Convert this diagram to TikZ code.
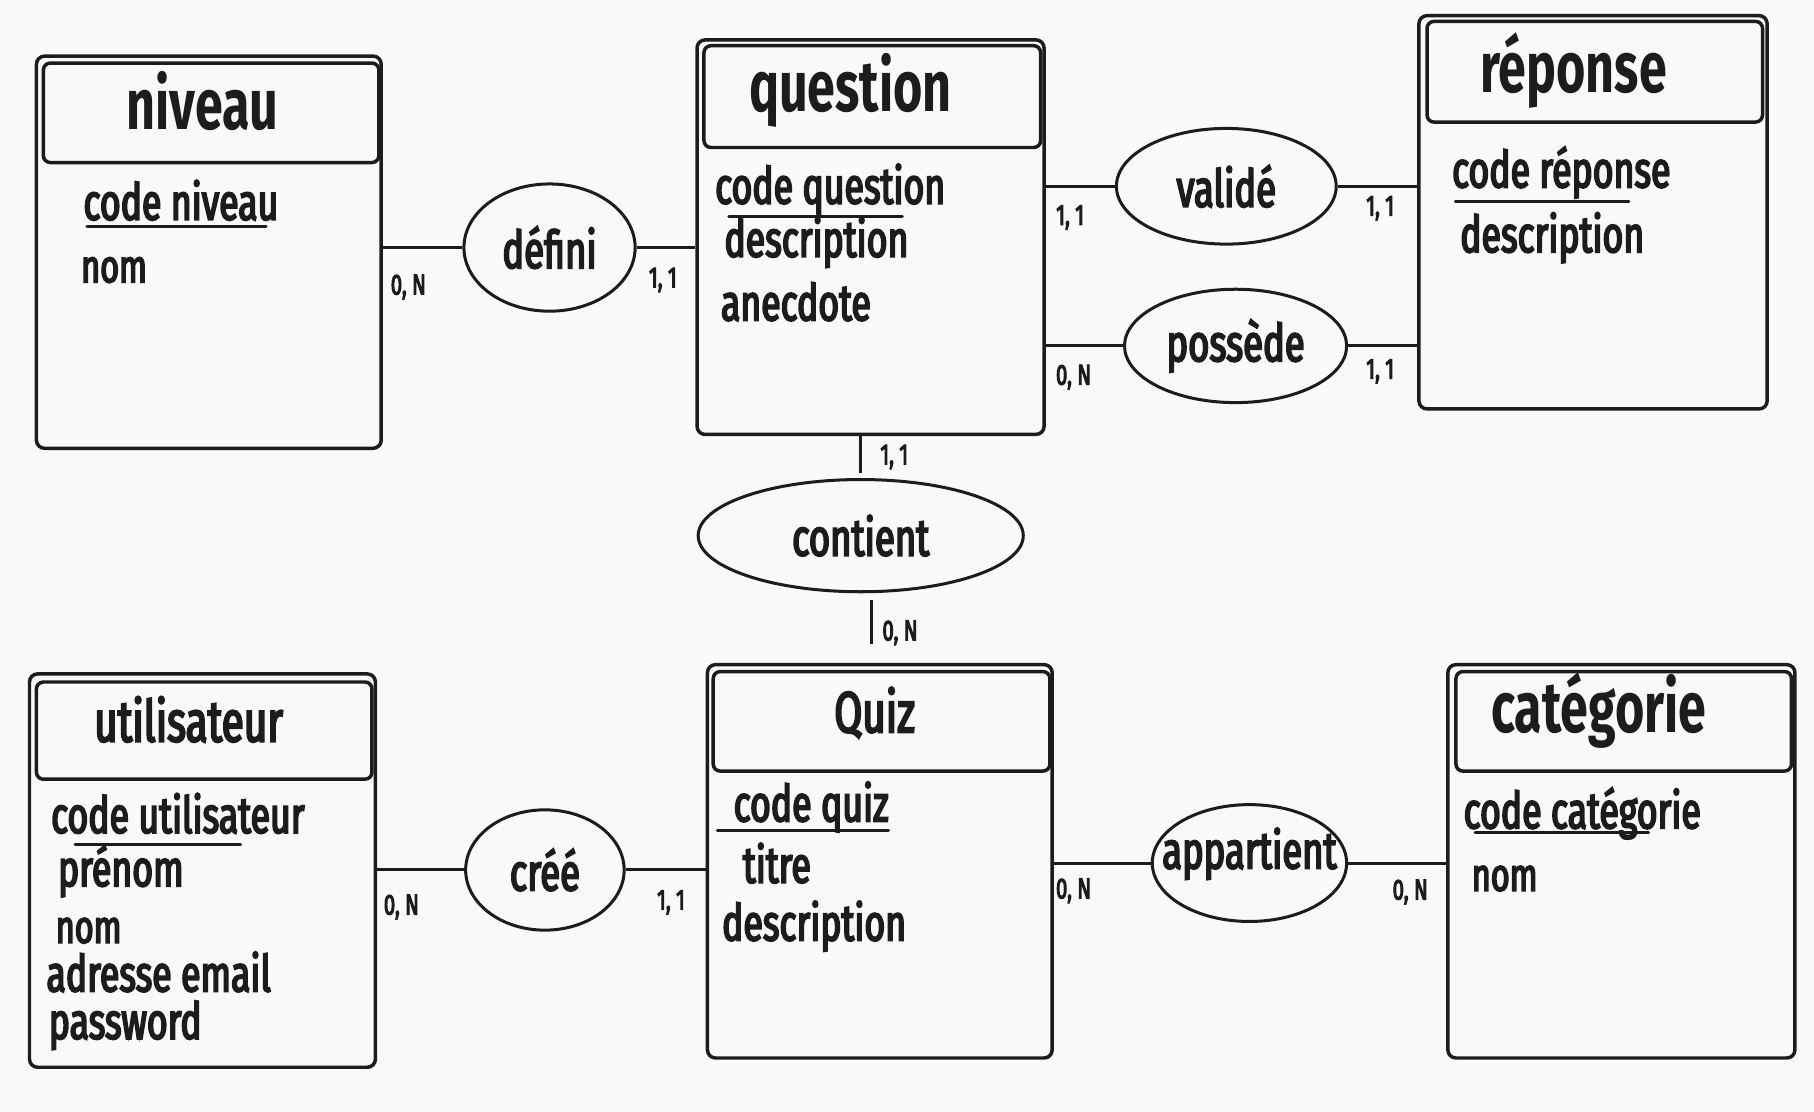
\documentclass[tikz,border=0pt]{standalone}
\usepackage{fontspec}
\newfontfamily\hand[FakeStretch=0.7]{Fira Sans}
\newfontfamily\handr[FakeStretch=0.7,FakeBold=3.5]{Fira Sans}
\usetikzlibrary{shapes.geometric}
\definecolor{bg}{HTML}{F8F9FA}
\definecolor{ink}{HTML}{1C1C1C}
\begin{document}
\begin{tikzpicture}[x=1pt,y=-1pt,
  box/.style={draw=ink, line width=3pt, rounded corners=7pt, inner sep=0pt, anchor=north west},
  head/.style={draw=ink, line width=3pt, rounded corners=6pt, inner sep=0pt, anchor=north west},
  ttl/.style={text=ink, inner sep=0pt, anchor=base, font=\hand\bfseries\fontsize{62}{70}\selectfont},
  ttlsmall/.style={text=ink, inner sep=0pt, anchor=base, font=\handr\fontsize{50}{58}\selectfont},
  attr/.style={text=ink, inner sep=0pt, anchor=base west, font=\handr\fontsize{44}{50}\selectfont},
  rel/.style={draw=ink, line width=2.6pt, ellipse, inner sep=0pt},
  reltext/.style={text=ink, inner sep=0pt, font=\handr\fontsize{45}{50}\selectfont},
  conn/.style={draw=ink, line width=2.6pt},
  card/.style={text=ink, inner sep=0pt, font=\handr\fontsize{25}{28}\selectfont},
  uline/.style={draw=ink, line width=2.6pt, line cap=round}]
\useasboundingbox (0,0) rectangle (1568,961);
\fill[bg] (0,0) rectangle (1568,961);

% ---------- niveau
\node[box, minimum width=298pt, minimum height=339pt] (niveau) at (30,47) {};
\node[head, minimum width=290pt, minimum height=86pt] (niveauH) at (36,53) {};
\node[ttl] (niveauT) at (175,112) {niveau};
\node[attr] (niveauA1) at (72,190) {code niveau};
\node[attr, font=\handr\fontsize{40}{46}\selectfont] (niveauA2) at (70,244) {nom};
\draw[uline] (75,196) -- (230,196);

% ---------- question
\node[box, minimum width=300pt, minimum height=341pt] (question) at (601,33) {};
\node[head, minimum width=291pt, minimum height=88pt] (questionH) at (607,38) {};
\node[ttl] (questionT) at (735,96) {question};
\node[attr] (questionA1) at (618,176) {code question};
\node[attr] (questionA2) at (626,222) {description};
\node[attr] (questionA3) at (623,277) {anecdote};
\draw[uline] (630,187) -- (780,187);

% ---------- réponse
\node[box, minimum width=301pt, minimum height=340pt] (reponse) at (1225,12) {};
\node[head, minimum width=290pt, minimum height=87pt] (reponseH) at (1232,17) {};
\node[ttl] (reponseT) at (1360,80) {réponse};
\node[attr] (reponseA1) at (1255,162) {code réponse};
\node[attr] (reponseA2) at (1262,218) {description};
\draw[uline] (1258,174) -- (1408,174);

% ---------- utilisateur
\node[box, minimum width=299pt, minimum height=340pt] (utilisateur) at (24,581) {};
\node[head, minimum width=290pt, minimum height=84pt] (utilisateurH) at (30,588) {};
\node[ttlsmall] (utilisateurT) at (163,641) {utilisateur};
\node[attr] (utilisateurA1) at (44,720) {code utilisateur};
\node[attr] (utilisateurA2) at (50,766) {prénom};
\node[attr, font=\handr\fontsize{40}{46}\selectfont] (utilisateurA3) at (48,815) {nom};
\node[attr] (utilisateurA4) at (40,857) {adresse email};
\node[attr] (utilisateurA5) at (42,898) {password};
\draw[uline] (65,730) -- (208,730);

% ---------- Quiz
\node[box, minimum width=298pt, minimum height=340pt] (quiz) at (610,573) {};
\node[head, minimum width=291pt, minimum height=86pt] (quizH) at (615,579) {};
\node[ttlsmall] (quizT) at (756,633) {Quiz};
\node[attr] (quizA1) at (634,710) {code quiz};
\node[attr] (quizA2) at (642,763) {titre};
\node[attr] (quizA3) at (624,813) {description};
\draw[uline] (620,718) -- (768,718);

% ---------- catégorie
\node[box, minimum width=300pt, minimum height=340pt] (categorie) at (1250,573) {};
\node[head, minimum width=290pt, minimum height=86pt] (categorieH) at (1257,579) {};
\node[ttl] (categorieT) at (1382,633) {catégorie};
\node[attr] (categorieA1) at (1265,716) {code catégorie};
\node[attr, font=\handr\fontsize{40}{46}\selectfont] (categorieA2) at (1272,770) {nom};
\draw[uline] (1275,720) -- (1425,720);

% ---------- relations
\node[rel, minimum width=148pt, minimum height=110pt] (defini) at (475,214) {};
\node[reltext] (definiT) at (defini) {défini};
\node[rel, minimum width=190pt, minimum height=100pt] (valide) at (1060,161) {};
\node[reltext] (valideT) at (valide) {validé};
\node[rel, minimum width=192pt, minimum height=98pt] (possede) at (1068,299) {};
\node[reltext] (possedeT) at (possede) {possède};
\node[rel, minimum width=281pt, minimum height=97pt] (contient) at (744,463) {};
\node[reltext] (contientT) at (contient) {contient};
\node[rel, minimum width=137pt, minimum height=104pt] (cree) at (471,752) {};
\node[reltext] (creeT) at (cree) {créé};
\node[rel, minimum width=168pt, minimum height=101pt] (appartient) at (1080,746) {};
\node[reltext] (appartientT) at ([yshift=8pt]appartient.center) {appartient};

% ---------- connectors
\draw[conn] (niveau.east |- defini.west) -- (defini.west);
\draw[conn] (defini.east) -- (question.west |- defini.east);
\draw[conn] (question.east |- valide.west) -- (valide.west);
\draw[conn] (valide.east) -- (reponse.west |- valide.east);
\draw[conn] (question.east |- possede.west) -- (possede.west);
\draw[conn] (possede.east) -- (reponse.west |- possede.east);
\coordinate (ct1) at ([yshift=4pt]contient.north);
\draw[conn] (question.south -| ct1) -- (ct1);
\coordinate (cb1) at ([xshift=9pt,yshift=-6pt]contient.south);
\coordinate (cb2) at ([yshift=16pt]quiz.north);
\draw[conn] (cb1) -- (cb1 |- cb2);
\draw[conn] (utilisateur.east |- cree.west) -- (cree.west);
\draw[conn] (cree.east) -- (quiz.west |- cree.east);
\draw[conn] (quiz.east |- appartient.west) -- (appartient.west);
\draw[conn] (appartient.east) -- (categorie.west |- appartient.east);

% ---------- cardinalities
\node[card] (c1) at (353,248) {0, N};
\node[card] (c2) at (573,242) {1, 1};
\node[card] (c3) at (925,188) {1, 1};
\node[card] (c4) at (1193,180) {1, 1};
\node[card] (c5) at (928,326) {0, N};
\node[card] (c6) at (1193,321) {1, 1};
\node[card] (c7) at (773,395) {1, 1};
\node[card] (c8) at (778,547) {0, N};
\node[card] (c9) at (347,784) {0, N};
\node[card] (c10) at (580,780) {1, 1};
\node[card] (c11) at (928,770) {0, N};
\node[card] (c12) at (1219,771) {0, N};
\end{tikzpicture}
\end{document}
